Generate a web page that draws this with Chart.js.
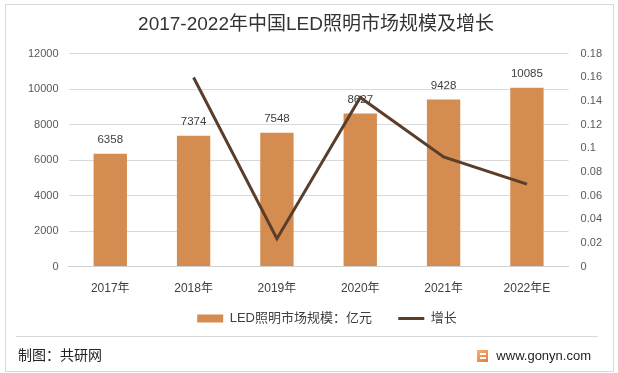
<!DOCTYPE html>
<html>
<head>
<meta charset="utf-8">
<script src="https://cdn.jsdelivr.net/npm/chart.js@4/dist/chart.umd.min.js"></script>
<style>
    html, body { margin: 0; padding: 0; background: #fff; }
    #wrap { width: 618px; height: 373px; position: relative; }
</style>
</head>
<body>
<div id="wrap"><canvas id="ledChart" width="618" height="373"></canvas></div>
<script>
const years = ['2017年', '2018年', '2019年', '2020年', '2021年', '2022年E'];
const marketSize = [6358, 7374, 7548, 8627, 9428, 10085];
const growthRate = [null, 0.16, 0.0236, 0.143, 0.0928, 0.0697];
const leftTicks = [0, 2000, 4000, 6000, 8000, 10000, 12000];
const rightTicks = [0, 0.02, 0.04, 0.06, 0.08, 0.1, 0.12, 0.14, 0.16, 0.18];

const barColor = 'rgb(212, 140, 80)';
const lineColor = 'rgb(90, 62, 42)';
const fontFam = "'Liberation Sans', 'Noto Sans CJK SC', sans-serif";

// value labels above the bars
const barLabels = {
    id: 'barLabels',
    afterDatasetsDraw(chart) {
        const ctx = chart.ctx;
        const meta = chart.getDatasetMeta(1);
        ctx.save();
        ctx.font = '11.5px ' + fontFam;
        ctx.fillStyle = '#404040';
        ctx.textAlign = 'center';
        ctx.textBaseline = 'bottom';
        meta.data.forEach((bar, i) => {
            ctx.fillText(String(marketSize[i]), bar.x, bar.y - 8);
        });
        ctx.restore();
    },
};

// legend sits a bit right of centre in the original
const legendShift = {
    id: 'legendShift',
    afterLayout(chart) {
        chart.legend.left += 11;
        chart.legend.right += 11;
    },
};

// frame, footer line and source text
const frame = {
    id: 'frame',
    beforeDraw(chart) {
        const ctx = chart.ctx;
        ctx.save();
        ctx.fillStyle = '#fff';
        ctx.fillRect(0, 0, chart.width, chart.height);
        ctx.strokeStyle = '#d9d9d9';
        ctx.lineWidth = 1;
        ctx.strokeRect(5.5, 4.5, 608, 367);
        ctx.beginPath();
        ctx.moveTo(16, 336.5);
        ctx.lineTo(598, 336.5);
        ctx.stroke();
        ctx.restore();
    },
    afterDraw(chart) {
        const ctx = chart.ctx;
        ctx.save();
        ctx.font = '14px ' + fontFam;
        ctx.fillStyle = '#222';
        ctx.textBaseline = 'middle';
        ctx.textAlign = 'left';
        ctx.fillText('制图：共研网', 18, 356);
        ctx.font = '13px ' + fontFam;
        ctx.textAlign = 'right';
        ctx.fillText('www.gonyn.com', 591, 356);
        // small logo
        let g = ctx.createLinearGradient(477, 349, 489, 363);
        g.addColorStop(0, '#f6b27a');
        g.addColorStop(1, '#e8762e');
        ctx.fillStyle = g;
        ctx.fillRect(477, 350, 11, 12);
        ctx.fillStyle = '#fff';
        ctx.fillRect(480, 353, 6, 2);
        ctx.fillRect(480, 357, 6, 2);
        ctx.restore();
    },
};

const ctx = document.getElementById('ledChart').getContext('2d');
const ledChart = new Chart(ctx, {
    data: {
        labels: years,
        datasets: [
            {
                type: 'line',
                label: '增长',
                data: growthRate,
                yAxisID: 'y1',
                borderColor: lineColor,
                backgroundColor: lineColor,
                borderWidth: 3,
                pointRadius: 0,
                tension: 0,
                fill: false,
                order: 0,
            },
            {
                type: 'bar',
                label: 'LED照明市场规模：亿元',
                data: marketSize,
                yAxisID: 'y',
                backgroundColor: barColor,
                barPercentage: 0.4,
                categoryPercentage: 1,
                order: 1,
            },
        ],
    },
    options: {
        responsive: false,
        animation: false,
        layout: { padding: { left: 18, right: 4, top: 8, bottom: 38 } },
        plugins: {
            title: {
                display: true,
                text: '2017-2022年中国LED照明市场规模及增长',
                color: '#333',
                font: { size: 19, family: fontFam, weight: 'normal' },
                padding: { top: 5, bottom: 18 },
            },
            legend: {
                position: 'bottom',
                reverse: true,
                labels: {
                    usePointStyle: true,
                    pointStyleWidth: 26,
                    boxHeight: 8,
                    padding: 1,
                    color: '#404040',
                    font: { size: 13, family: fontFam },
                    generateLabels(chart) {
                        return chart.data.datasets.map((ds, i) => ({
                            // trailing spaces widen the gap between the two items
                            text: ds.type === 'bar' ? ds.label + '       ' : ds.label,
                            datasetIndex: i,
                            fillStyle: ds.type === 'bar' ? barColor : lineColor,
                            strokeStyle: ds.type === 'bar' ? barColor : lineColor,
                            lineWidth: ds.type === 'bar' ? 0 : 3,
                            pointStyle: ds.type === 'bar' ? 'rect' : 'line',
                            fontColor: '#404040',
                        }));
                    },
                },
            },
            tooltip: { enabled: false },
        },
        scales: {
            x: {
                offset: true,
                grid: {
                    offset: true,
                    drawOnChartArea: false,
                    drawTicks: false,
                },
                border: { color: '#d0d0d0' },
                ticks: { color: '#404040', font: { size: 12, family: fontFam }, padding: 15 },
            },
            y: {
                position: 'left',
                min: 0,
                max: 12000,
                afterBuildTicks(axis) {
                    axis.ticks = leftTicks.map((v) => ({ value: v }));
                },
                grid: { color: '#d9d9d9', drawTicks: false },
                border: { display: false },
                ticks: {
                    color: '#595959',
                    font: { size: 11, family: fontFam },
                    padding: 10,
                    callback: (v) => String(v),
                },
            },
            y1: {
                position: 'right',
                min: 0,
                max: 0.18,
                afterBuildTicks(axis) {
                    axis.ticks = rightTicks.map((v) => ({ value: v }));
                },
                grid: { drawOnChartArea: false, drawTicks: false },
                border: { display: false },
                ticks: {
                    color: '#595959',
                    font: { size: 11, family: fontFam },
                    padding: 12,
                    callback: (v) => String(Math.round(v * 100) / 100),
                },
            },
        },
    },
    plugins: [frame, barLabels, legendShift],
});
</script>
</body>
</html>
